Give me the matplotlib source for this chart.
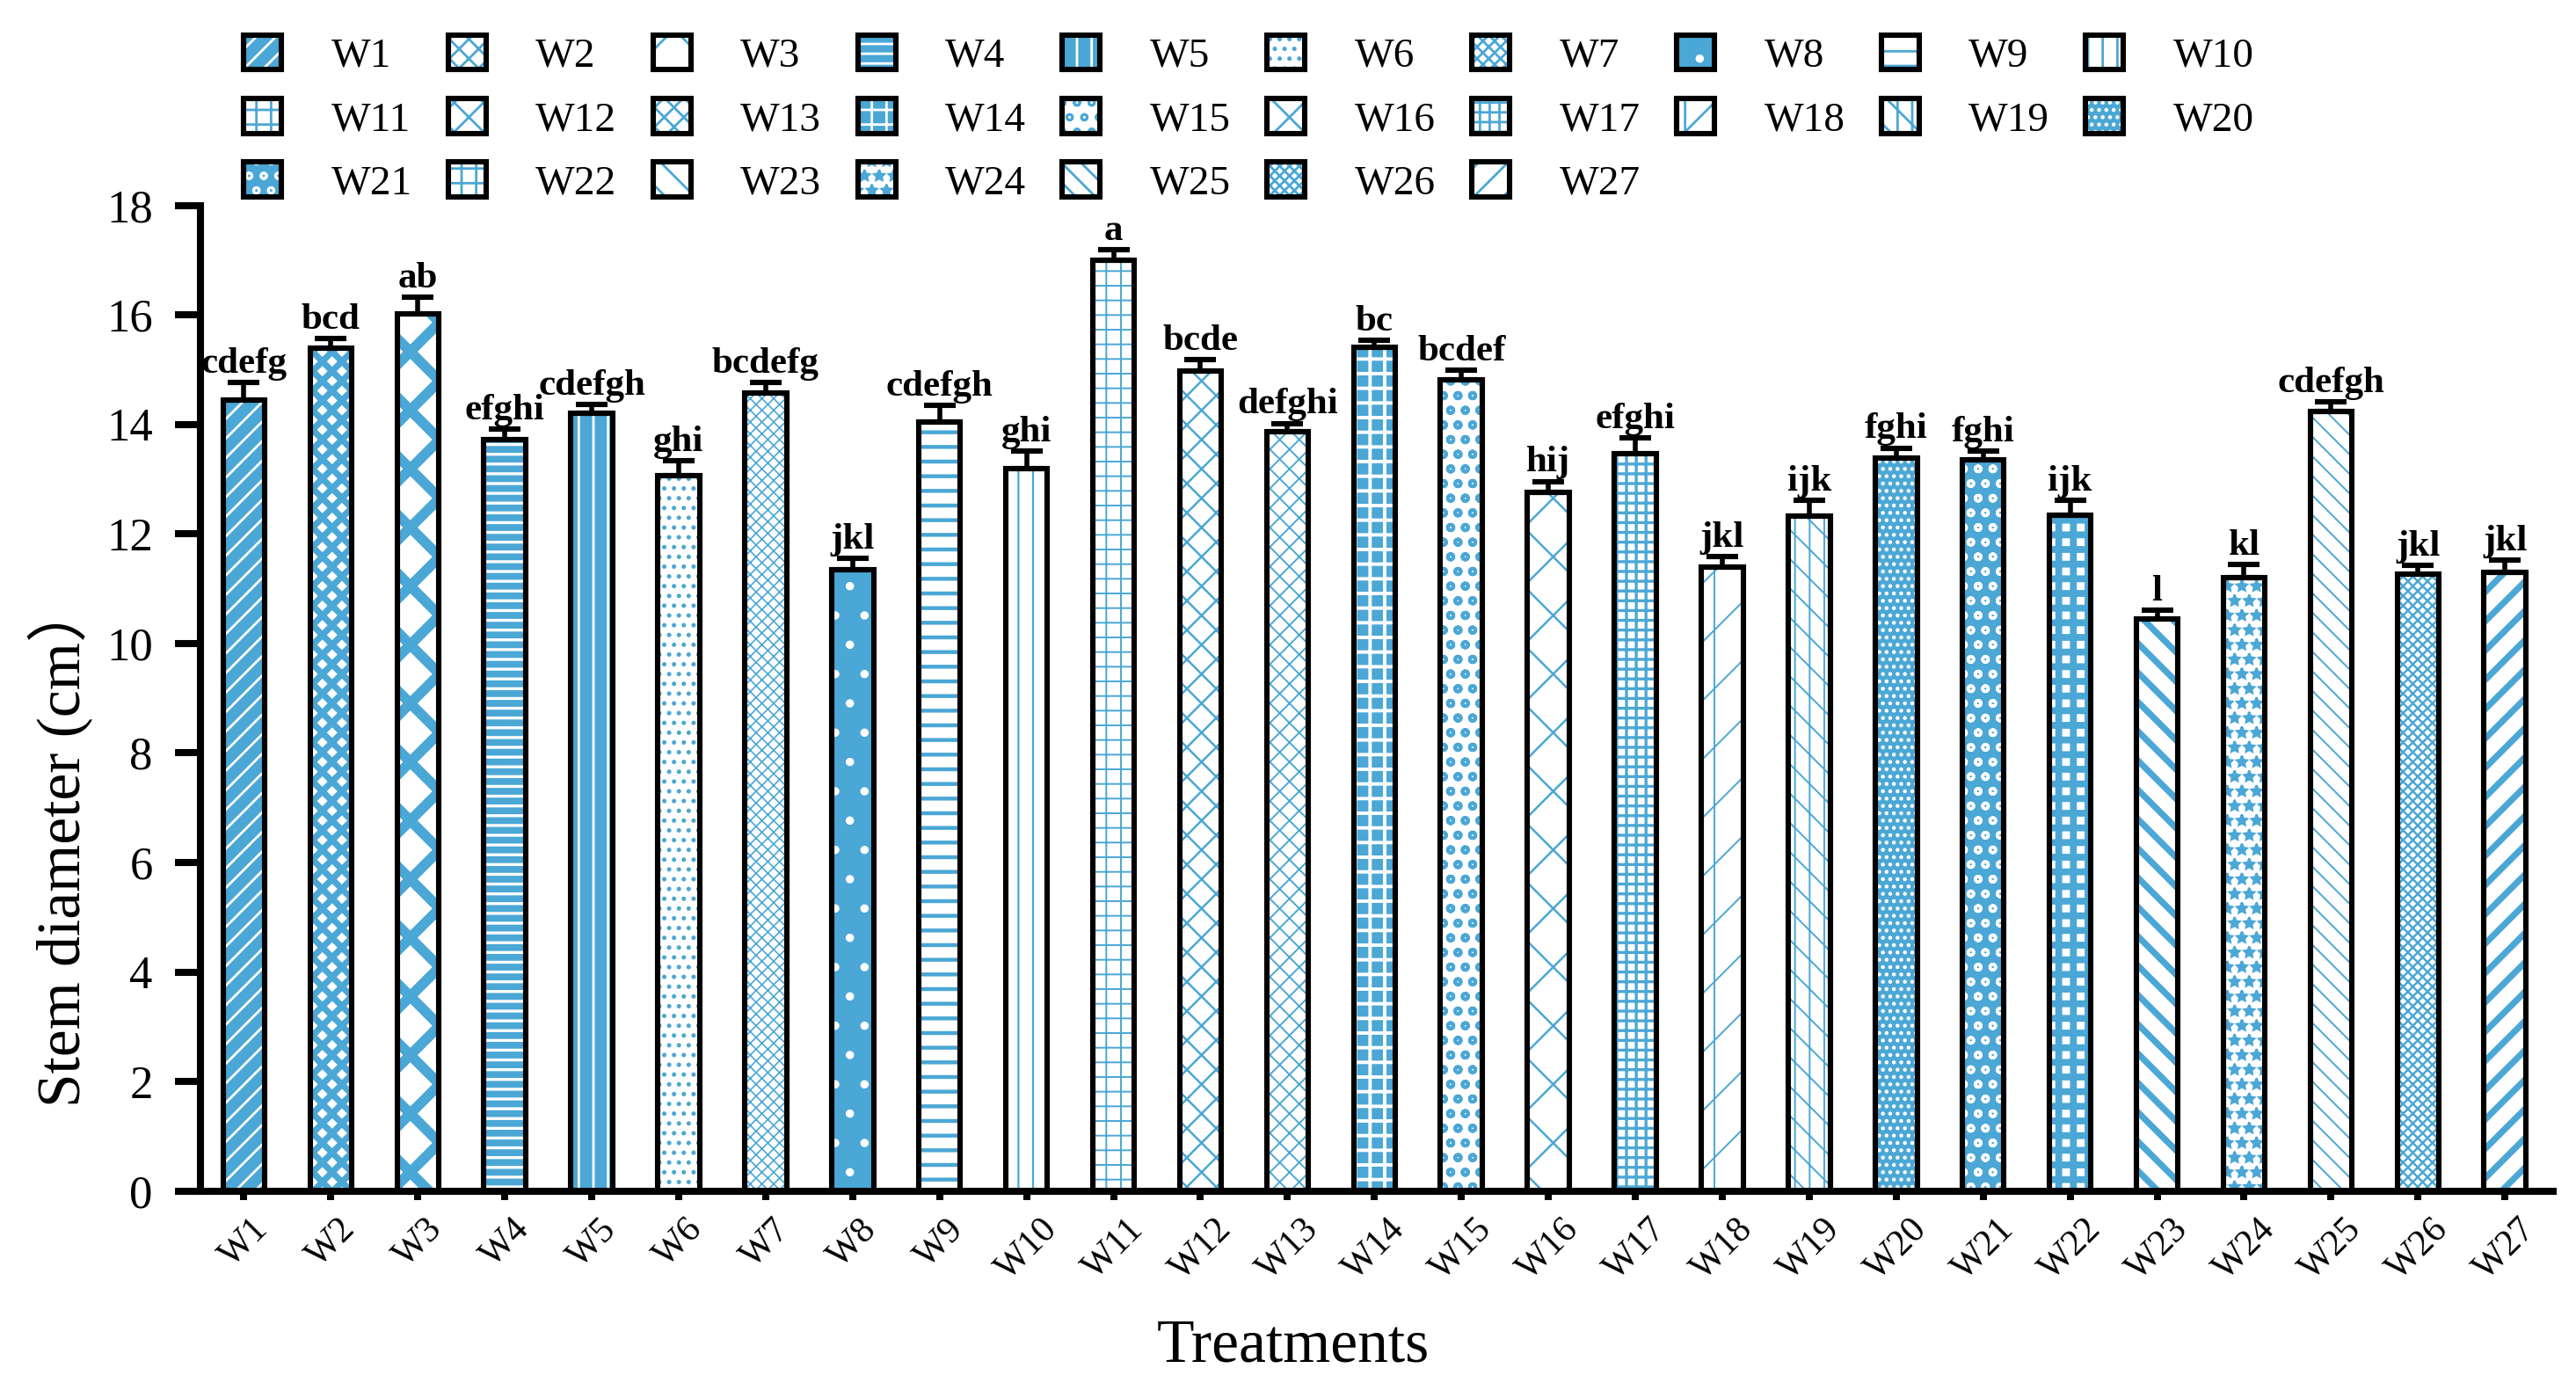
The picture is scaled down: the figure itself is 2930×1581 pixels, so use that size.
import numpy as np
import matplotlib
matplotlib.use('Agg')
from matplotlib import pyplot as plt
from matplotlib.patches import Patch
from matplotlib.legend_handler import HandlerTuple

# Stem diameter per treatment.
treatments = ['W%d' % i for i in range(1, 28)]
stem = [14.44, 15.39, 16.02, 13.73, 14.21, 13.07, 14.58, 11.34, 14.04, 13.20,
        17.00, 14.97, 13.87, 15.41, 14.82, 12.76, 13.46, 11.40, 12.32, 13.39,
        13.36, 12.35, 10.44, 11.20, 14.23, 11.27, 11.30]
err = [0.32, 0.18, 0.30, 0.19, 0.16, 0.27, 0.18, 0.21, 0.31, 0.31,
       0.19, 0.22, 0.15, 0.12, 0.17, 0.20, 0.29, 0.18, 0.29, 0.18,
       0.15, 0.26, 0.16, 0.24, 0.19, 0.15, 0.22]
letters = ['cdefg', 'bcd', 'ab', 'efghi', 'cdefgh', 'ghi', 'bcdefg', 'jkl', 'cdefgh', 'ghi',
           'a', 'bcde', 'defghi', 'bc', 'bcdef', 'hij', 'efghi', 'jkl', 'ijk', 'fghi',
           'fghi', 'ijk', 'l', 'kl', 'cdefgh', 'jkl', 'jkl']

B = '#4BA7D5'
W = 'white'
# (face colour, hatch colour, hatch, hatch line width)
styles = [
    (B, W, '///', 1.0),      # W1
    (W, B, 'xxx', 2.6),      # W2
    (W, B, 'x', 4.2),        # W3
    (B, W, '---', 1.2),      # W4
    (B, W, '||', 1.0),       # W5
    (W, B, '...', 1.0),      # W6
    (W, B, 'xxxxx', 0.6),    # W7
    (B, W, '.', 1.0),        # W8
    (W, B, '--', 1.6),       # W9
    (W, B, '||', 0.8),       # W10
    (W, B, '++', 0.7),       # W11
    (W, B, 'xx', 0.9),       # W12
    (W, B, 'xxx', 0.7),      # W13
    (B, W, '++', 1.4),       # W14
    (W, B, 'oo', 1.4),       # W15
    (W, B, 'x', 0.9),        # W16
    (W, B, '+++', 1.2),      # W17
    (W, B, '/|', 0.7),       # W18
    (W, B, '\\\\||', 0.7),   # W19
    (B, W, '....', 1.0),     # W20
    (B, W, 'oo', 1.2),       # W21
    (W, B, '++', 2.8),       # W22
    (W, B, '\\\\', 2.6),     # W23
    (W, B, '**', 1.0),       # W24
    (W, B, '\\\\\\', 0.7),   # W25
    (W, B, 'xxxxxx', 0.9),   # W26
    (W, B, '//', 2.6),       # W27
]

plt.rcParams['font.family'] = ['Liberation Serif', 'Noto Sans CJK SC']


def hatch_lw(p, lw):
    if hasattr(p, 'set_hatch_linewidth'):
        p.set_hatch_linewidth(lw)
    else:
        p._hatch_linewidth = lw


fig = plt.figure(figsize=(14.65, 7.905), dpi=200)
ax = fig.add_axes([0.0778, 0.1432, 0.9132, 0.7090])

x = np.arange(len(treatments))
width = 0.48
fills = ax.bar(x, stem, width, linewidth=0, zorder=2)
for p, (fc, hc, h, lw) in zip(fills, styles):
    p.set_facecolor(fc)
    p.set_edgecolor(hc)
    p.set_hatch(h)
    hatch_lw(p, lw)
ax.bar(x, stem, width, fill=False, edgecolor='black', linewidth=2.2, zorder=3)

ax.errorbar(x, stem, yerr=[np.zeros(len(err)), err], fmt='none', ecolor='black',
            elinewidth=2.0, capsize=6.5, capthick=2.2, zorder=4)

for xi, v, e, t in zip(x, stem, err, letters):
    ax.annotate(t, (xi, v + e), xytext=(0, 4), textcoords='offset points',
                ha='center', va='baseline', fontsize=15.5, fontweight='bold')

ax.set_xlim(-0.5, 26.55)
ax.set_ylim(0, 18)
ax.set_yticks(np.arange(0, 19, 2))
ax.set_xticks(x)
ax.set_xticklabels(treatments, rotation=45, ha='center', fontsize=15)
for s in ['top', 'right']:
    ax.spines[s].set_visible(False)
for s in ['left', 'bottom']:
    ax.spines[s].set_linewidth(2.9)
ax.tick_params(axis='y', direction='out', length=10.5, width=2.9, labelsize=19, pad=9)
ax.tick_params(axis='x', direction='out', length=3.7, width=2.9, pad=5)

fig.text(0.0236, 0.393, 'Stem diameter (cm）', rotation=90, ha='center', va='center', fontsize=25)
fig.text(0.502, 0.031, 'Treatments', ha='center', va='center', fontsize=25)

# Legend, filled row by row like the original (10 columns).
handles = []
for (fc, hc, h, lw) in styles:
    a = Patch(facecolor=fc, edgecolor=hc, hatch=h, linewidth=0)
    hatch_lw(a, lw)
    b = Patch(fill=False, edgecolor='black', linewidth=2.2)
    handles.append((a, b))
order = []
for c in range(10):
    for r in range(3):
        i = r * 10 + c
        if i < len(treatments):
            order.append(i)
fig.legend([handles[i] for i in order], [treatments[i] for i in order],
           handler_map={tuple: HandlerTuple(ndivide=1, pad=0)},
           loc='upper left', bbox_to_anchor=(0.0945, 0.975), ncol=10, frameon=False,
           fontsize=17, handlelength=0.91, handleheight=0.91, handletextpad=1.2,
           columnspacing=0.87, labelspacing=0.56, borderpad=0, borderaxespad=0)

fig.savefig('out.png', dpi=200)
